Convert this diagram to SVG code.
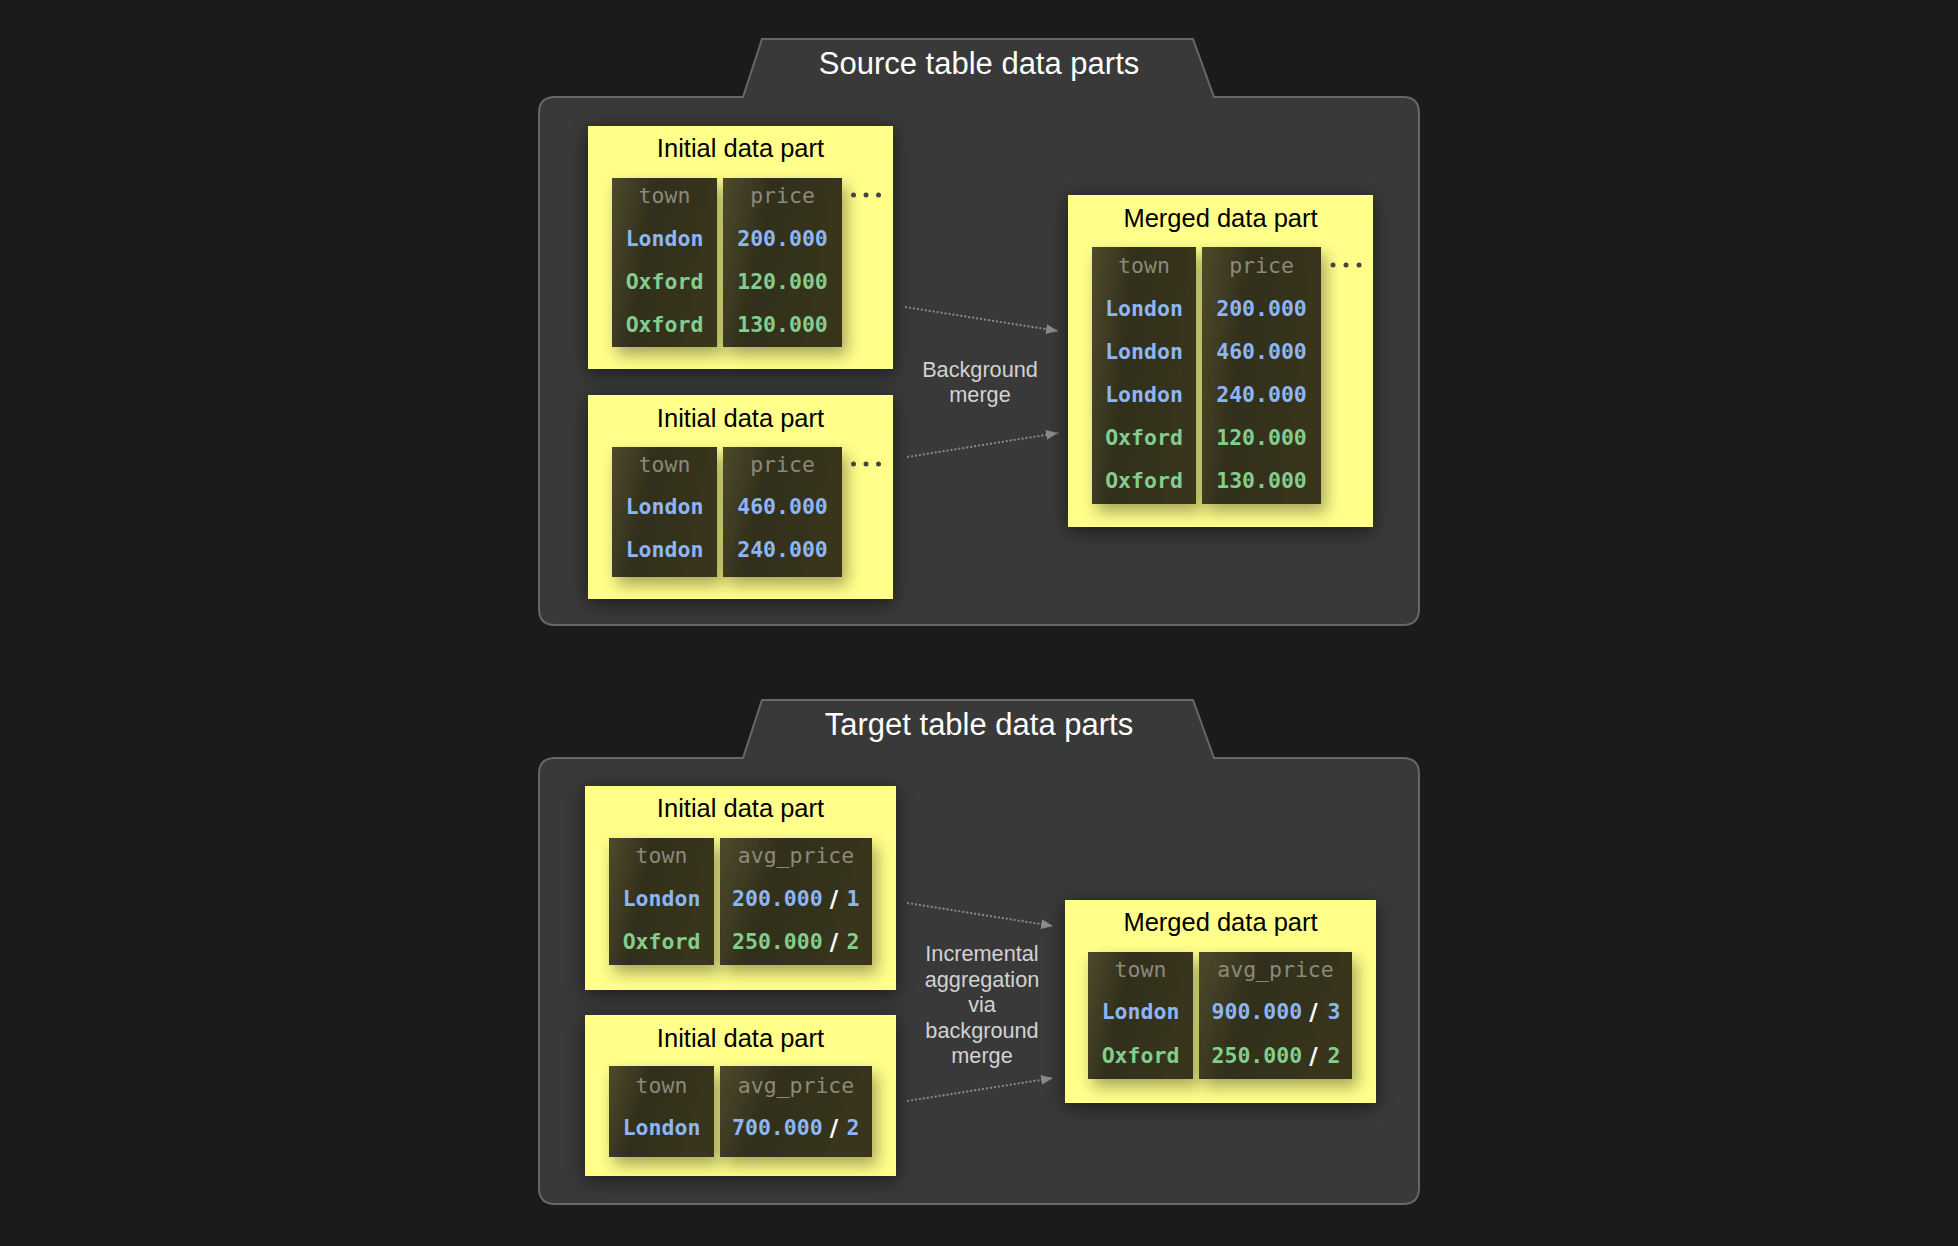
<svg xmlns="http://www.w3.org/2000/svg" width="1958" height="1246" viewBox="0 0 1958 1246">
<defs>
<style>
.panel{fill:#393939;stroke:#676767;stroke-width:2}
.sect{font-family:"Liberation Sans",Arial,sans-serif;font-size:31px;fill:#ffffff;text-anchor:middle}
.part{fill:#ffff8a}
.ptitle{font-family:"Liberation Sans",Arial,sans-serif;font-size:25.5px;fill:#000000;text-anchor:middle}
.col{fill:url(#colg)}
.hdr{font-family:"DejaVu Sans Mono",monospace;font-size:21.5px;fill:#8b897b;text-anchor:middle}
.v{font-family:"DejaVu Sans Mono",monospace;font-size:21.5px;font-weight:bold}
.c{text-anchor:middle}
.b{fill:#8db6f5}
.g{fill:#83cd8d}
.sl{font-family:"DejaVu Sans",sans-serif;font-size:23px;font-weight:bold;fill:#ffffff;text-anchor:middle}
.lbl{font-family:"Liberation Sans",Arial,sans-serif;font-size:21.7px;fill:#d2d2d2;text-anchor:middle}
.dot{fill:#444444}
.arr{stroke:#8a8a8a;stroke-width:2;stroke-dasharray:2 2;fill:none}
</style>
<linearGradient id="colg" x1="0" y1="0" x2="1" y2="0.25">
<stop offset="0" stop-color="#4d4a2b"/>
<stop offset="0.4" stop-color="#312f1c"/>
<stop offset="1" stop-color="#38351f"/>
</linearGradient>
<filter id="psh" x="-20%" y="-20%" width="140%" height="140%">
<feDropShadow dx="0" dy="4" stdDeviation="10" flood-color="#000" flood-opacity="0.55"/>
</filter>
<filter id="csh" x="-30%" y="-30%" width="160%" height="160%">
<feDropShadow dx="5" dy="8" stdDeviation="8" flood-color="#000" flood-opacity="0.35"/>
</filter>
<marker id="ah" markerUnits="userSpaceOnUse" markerWidth="12" markerHeight="10" refX="12" refY="5" orient="auto">
<path d="M0,0 L12,5 L0,10 Z" fill="#8a8a8a"/>
</marker>
</defs>
<rect x="0" y="0" width="1958" height="1246" fill="#1b1b1b"/>

<g id="source-panel">
<path class="panel" d="M555,97 L743,97 L762,39 L1193,39 L1214,97 L1403,97 Q1419,97 1419,113 L1419,609 Q1419,625 1403,625 L555,625 Q539,625 539,609 L539,113 Q539,97 555,97 Z"/>
<text class="sect" x="979" y="74">Source table data parts</text>
</g>

<g id="target-panel">
<path class="panel" d="M555,758 L743,758 L762,700 L1193,700 L1214,758 L1403,758 Q1419,758 1419,774 L1419,1188 Q1419,1204 1403,1204 L555,1204 Q539,1204 539,1188 L539,774 Q539,758 555,758 Z"/>
<text class="sect" x="979" y="735">Target table data parts</text>
</g>

<g id="connectors">
<line class="arr" x1="905" y1="307" x2="1058" y2="331" marker-end="url(#ah)"/>
<line class="arr" x1="907" y1="457" x2="1058" y2="433" marker-end="url(#ah)"/>
<line class="arr" x1="907" y1="903" x2="1053" y2="926" marker-end="url(#ah)"/>
<line class="arr" x1="907" y1="1101" x2="1053" y2="1078" marker-end="url(#ah)"/>
<text class="lbl" x="980" y="377">Background</text>
<text class="lbl" x="980" y="402">merge</text>
<text class="lbl" x="982" y="961">Incremental</text>
<text class="lbl" x="982" y="987">aggregation</text>
<text class="lbl" x="982" y="1012">via</text>
<text class="lbl" x="982" y="1038">background</text>
<text class="lbl" x="982" y="1063">merge</text>
</g>

<g id="src-initial-1">
<rect class="part" x="588" y="126" width="305" height="243" filter="url(#psh)"/>
<text class="ptitle" x="740.5" y="157">Initial data part</text>
<g filter="url(#csh)">
<rect class="col" x="612" y="178" width="105" height="169"/>
<rect class="col" x="723" y="178" width="119" height="169"/>
</g>
<text class="hdr" x="664.5" y="203">town</text>
<text class="hdr" x="782.5" y="203">price</text>
<text class="v c b" x="664.5" y="246">London</text>
<text class="v c b" x="782.5" y="246">200.000</text>
<text class="v c g" x="664.5" y="289">Oxford</text>
<text class="v c g" x="782.5" y="289">120.000</text>
<text class="v c g" x="664.5" y="332">Oxford</text>
<text class="v c g" x="782.5" y="332">130.000</text>
<circle class="dot" cx="853.5" cy="195" r="2.5"/>
<circle class="dot" cx="866" cy="195" r="2.5"/>
<circle class="dot" cx="878.5" cy="195" r="2.5"/>
</g>

<g id="src-initial-2">
<rect class="part" x="588" y="395" width="305" height="204" filter="url(#psh)"/>
<text class="ptitle" x="740.5" y="427">Initial data part</text>
<g filter="url(#csh)">
<rect class="col" x="612" y="447" width="105" height="130"/>
<rect class="col" x="723" y="447" width="119" height="130"/>
</g>
<text class="hdr" x="664.5" y="472">town</text>
<text class="hdr" x="782.5" y="472">price</text>
<text class="v c b" x="664.5" y="514">London</text>
<text class="v c b" x="782.5" y="514">460.000</text>
<text class="v c b" x="664.5" y="557">London</text>
<text class="v c b" x="782.5" y="557">240.000</text>
<circle class="dot" cx="853.5" cy="464" r="2.5"/>
<circle class="dot" cx="866" cy="464" r="2.5"/>
<circle class="dot" cx="878.5" cy="464" r="2.5"/>
</g>

<g id="src-merged">
<rect class="part" x="1068" y="195" width="305" height="332" filter="url(#psh)"/>
<text class="ptitle" x="1220.5" y="227">Merged data part</text>
<g filter="url(#csh)">
<rect class="col" x="1092" y="247" width="104" height="257"/>
<rect class="col" x="1202" y="247" width="119" height="257"/>
</g>
<text class="hdr" x="1144" y="273">town</text>
<text class="hdr" x="1261.5" y="273">price</text>
<text class="v c b" x="1144" y="316">London</text>
<text class="v c b" x="1261.5" y="316">200.000</text>
<text class="v c b" x="1144" y="359">London</text>
<text class="v c b" x="1261.5" y="359">460.000</text>
<text class="v c b" x="1144" y="402">London</text>
<text class="v c b" x="1261.5" y="402">240.000</text>
<text class="v c g" x="1144" y="445">Oxford</text>
<text class="v c g" x="1261.5" y="445">120.000</text>
<text class="v c g" x="1144" y="488">Oxford</text>
<text class="v c g" x="1261.5" y="488">130.000</text>
<circle class="dot" cx="1333" cy="265" r="2.5"/>
<circle class="dot" cx="1346" cy="265" r="2.5"/>
<circle class="dot" cx="1359" cy="265" r="2.5"/>
</g>

<g id="tgt-initial-1">
<rect class="part" x="585" y="786" width="311" height="204" filter="url(#psh)"/>
<text class="ptitle" x="740.5" y="817">Initial data part</text>
<g filter="url(#csh)">
<rect class="col" x="609" y="838" width="105" height="127"/>
<rect class="col" x="720" y="838" width="152" height="127"/>
</g>
<text class="hdr" x="661.5" y="863">town</text>
<text class="hdr" x="796" y="863">avg_price</text>
<text class="v c b" x="661.5" y="906">London</text>
<text class="v b" x="732" y="906">200.000</text>
<text class="sl" x="834" y="907">/</text>
<text class="v c b" x="853" y="906">1</text>
<text class="v c g" x="661.5" y="949">Oxford</text>
<text class="v g" x="732" y="949">250.000</text>
<text class="sl" x="834" y="950">/</text>
<text class="v c g" x="853" y="949">2</text>
</g>

<g id="tgt-initial-2">
<rect class="part" x="585" y="1015" width="311" height="161" filter="url(#psh)"/>
<text class="ptitle" x="740.5" y="1047">Initial data part</text>
<g filter="url(#csh)">
<rect class="col" x="609" y="1066" width="105" height="91"/>
<rect class="col" x="720" y="1066" width="152" height="91"/>
</g>
<text class="hdr" x="661.5" y="1093">town</text>
<text class="hdr" x="796" y="1093">avg_price</text>
<text class="v c b" x="661.5" y="1135">London</text>
<text class="v b" x="732" y="1135">700.000</text>
<text class="sl" x="834" y="1136">/</text>
<text class="v c b" x="853" y="1135">2</text>
</g>

<g id="tgt-merged">
<rect class="part" x="1065" y="900" width="311" height="203" filter="url(#psh)"/>
<text class="ptitle" x="1220.5" y="931">Merged data part</text>
<g filter="url(#csh)">
<rect class="col" x="1088" y="952" width="105" height="127"/>
<rect class="col" x="1199" y="952" width="153" height="127"/>
</g>
<text class="hdr" x="1140.5" y="977">town</text>
<text class="hdr" x="1275.5" y="977">avg_price</text>
<text class="v c b" x="1140.5" y="1019">London</text>
<text class="v b" x="1211.5" y="1019">900.000</text>
<text class="sl" x="1313.5" y="1020">/</text>
<text class="v c b" x="1334" y="1019">3</text>
<text class="v c g" x="1140.5" y="1063">Oxford</text>
<text class="v g" x="1211.5" y="1063">250.000</text>
<text class="sl" x="1313.5" y="1064">/</text>
<text class="v c g" x="1334" y="1063">2</text>
</g>
</svg>
